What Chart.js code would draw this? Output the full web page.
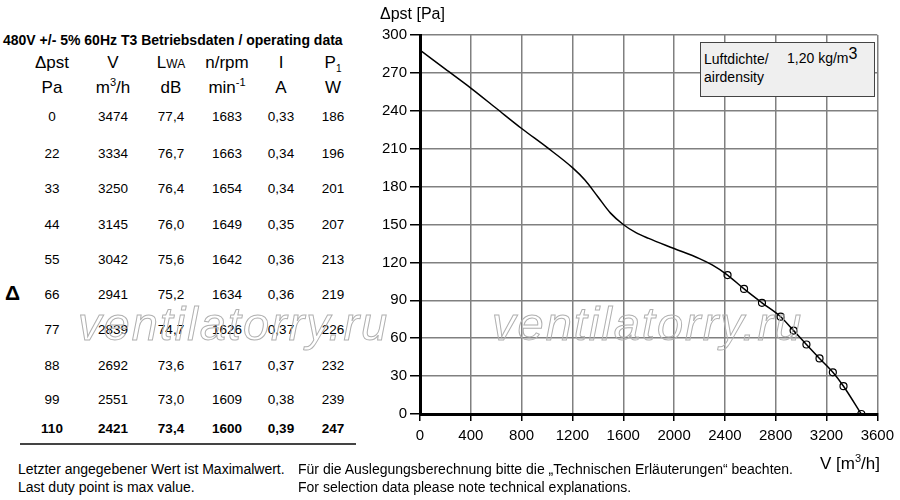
<!DOCTYPE html>
<html>
<head>
<meta charset="utf-8">
<script src="https://cdn.jsdelivr.net/npm/chart.js@4.4.1/dist/chart.umd.min.js"></script>
<style>
  body { margin: 0; background: #fff; }
  #page { position: relative; width: 900px; height: 500px; overflow: hidden; font-family: "Liberation Sans", Arial, sans-serif; color: #000; }
  .t { position: absolute; white-space: nowrap; line-height: 1; }
  .c { width: 70px; text-align: center; }
  #chartBox { position: absolute; left: 360px; top: 0; width: 540px; height: 500px; }
  .wm { position: absolute; font-size: 47px; font-style: italic; letter-spacing: 2px; color: transparent;
        -webkit-text-stroke: 1px #b0b0b0; line-height: 1; pointer-events: none; z-index: 5; white-space: nowrap; }
  sup { font-size: 65%; line-height: 0; }
</style>
</head>
<body>
<div id="page">
  <div class="t" style="left:3px; top:33px; font-size:14px; font-weight:bold;">480V +/- 5% 60Hz T3 Betriebsdaten / operating data</div>
  <div id="table"></div>
  <div class="t" style="left:5px; top:282px; font-size:21px; font-weight:bold;">&Delta;</div>
  <div style="position:absolute; left:20px; top:443px; width:336px; height:2px; background:#444;"></div>

  <div id="chartBox"><canvas id="myChart" width="540" height="500"></canvas></div>

  <div class="t" style="left:380px; top:6px; font-size:16px;">&Delta;pst [Pa]</div>
  <div class="t" style="left:820px; top:455px; font-size:17px;">V [m<sup>3</sup>/h]</div>

  <div class="t" style="left:700px; top:42px; width:173px; height:53px; background:#efefef; border:1px solid #444; z-index:4;"></div>
  <div class="t" style="left:704px; top:52px; font-size:14px; z-index:4;">Luftdichte/</div>
  <div class="t" style="left:787px; top:50px; font-size:14px; z-index:4;">1,20 kg/m<span style="font-size:16px; position:relative; top:-4px;">3</span></div>
  <div class="t" style="left:704px; top:70px; font-size:14px; z-index:4;">airdensity</div>

  <div class="t" style="left:18px; top:462px; font-size:14px;">Letzter angegebener Wert ist Maximalwert.</div>
  <div class="t" style="left:298px; top:462px; font-size:14px;">F&uuml;r die Auslegungsberechnung bitte die &bdquo;Technischen Erl&auml;uterungen&ldquo; beachten.</div>
  <div class="t" style="left:18px; top:480px; font-size:14px;">Last duty point is max value.</div>
  <div class="t" style="left:298px; top:480px; font-size:14px;">For selection data please note technical explanations.</div>

  <div class="wm" style="left:78px; top:300px;">ventilatorry.ru</div>
  <div class="wm" style="left:492px; top:300px;">ventilatorry.ru</div>
</div>

<script>
// operating data table
const pressure = [0, 22, 33, 44, 55, 66, 77, 88, 99, 110];
const airflow = [3474, 3334, 3250, 3145, 3042, 2941, 2839, 2692, 2551, 2421];
const soundPower = ['77,4', '76,7', '76,4', '76,0', '75,6', '75,2', '74,7', '73,6', '73,0', '73,4'];
const speed = [1683, 1663, 1654, 1649, 1642, 1634, 1626, 1617, 1609, 1600];
const current = ['0,33', '0,34', '0,34', '0,35', '0,36', '0,36', '0,37', '0,37', '0,38', '0,39'];
const power = [186, 196, 201, 207, 213, 219, 226, 232, 239, 247];

// fan curve (left of the duty points)
const curveV = [0, 200, 400, 600, 800, 1000, 1200, 1300, 1400, 1500, 1600, 1700, 1800, 2000, 2200, 2300];
const curveP = [288, 273, 258, 242, 226, 211, 195, 185, 172, 159, 150, 143.5, 139, 131, 123, 118];

const xTicks = [0, 400, 800, 1200, 1600, 2000, 2400, 2800, 3200, 3600];
const yTicks = [0, 30, 60, 90, 120, 150, 180, 210, 240, 270, 300];

// build the table
const colX = [52, 113, 171, 227, 281, 333];
const rowY = [117, 154, 189, 225, 260, 295, 330, 366, 400, 429];
let html = '';
const head1 = ['&Delta;pst', 'V', 'L<span style="font-size:12px">WA</span>', 'n/rpm', 'I', 'P<sub style="font-size:10px">1</sub>'];
const head2 = ['Pa', 'm<sup>3</sup>/h', 'dB', 'min<sup>-1</sup>', 'A', 'W'];
head1.forEach((h, i) => { html += `<div class="t c" style="left:${colX[i] - 35}px; top:54px; font-size:17px;">${h}</div>`; });
head2.forEach((h, i) => { html += `<div class="t c" style="left:${colX[i] - 35}px; top:79px; font-size:17px;">${h}</div>`; });
pressure.forEach((p, r) => {
  const cells = [p, airflow[r], soundPower[r], speed[r], current[r], power[r]];
  const bold = r === pressure.length - 1 ? 'font-weight:bold;' : '';
  cells.forEach((v, i) => {
    html += `<div class="t c" style="left:${colX[i] - 35}px; top:${rowY[r] - 7}px; font-size:13.5px; ${bold}">${v}</div>`;
  });
});
document.getElementById('table').innerHTML = html;

const curve = curveV.map((v, i) => ({ x: v, y: curveP[i] }));
const duty = airflow.map((v, i) => ({ x: v, y: pressure[i] })).sort((a, b) => a.x - b.x);
const fullCurve = curve.concat(duty);

const ctx = document.getElementById('myChart').getContext('2d');
new Chart(ctx, {
  type: 'scatter',
  data: {
    datasets: [{
      data: fullCurve,
      showLine: true,
      borderColor: '#000',
      borderWidth: 1.5,
      pointRadius: 0,
      cubicInterpolationMode: 'monotone'
    }, {
      data: duty,
      showLine: false,
      pointRadius: 3.5,
      pointBorderColor: '#000',
      pointBackgroundColor: 'rgba(0,0,0,0)',
      pointBorderWidth: 1.2
    }]
  },
  options: {
    responsive: false,
    animation: false,
    layout: { padding: { top: 35, right: 19, left: 0, bottom: 0 } },
    plugins: { legend: { display: false }, tooltip: { enabled: false } },
    scales: {
      x: {
        type: 'linear', min: 0, max: 3600,
        afterBuildTicks: s => { s.ticks = xTicks.map(v => ({ value: v })); },
        afterFit: s => { s.height = 86; },
        border: { color: '#000', width: 3 },
        grid: { color: '#808080', lineWidth: 1.5, tickLength: 7, tickColor: '#000' },
        ticks: { color: '#000', font: { family: 'Liberation Sans', size: 15 }, padding: 6, maxRotation: 0,
                 callback: v => String(v) }
      },
      y: {
        type: 'linear', min: 0, max: 300,
        afterBuildTicks: s => { s.ticks = yTicks.map(v => ({ value: v })); },
        afterFit: s => { s.width = 60; },
        border: { color: '#000', width: 3 },
        grid: { color: '#808080', lineWidth: 1.5, tickLength: 10, tickColor: '#000' },
        ticks: { color: '#000', font: { family: 'Liberation Sans', size: 15 }, padding: 3,
                 callback: v => String(v) }
      }
    }
  }
});
</script>
</body>
</html>
